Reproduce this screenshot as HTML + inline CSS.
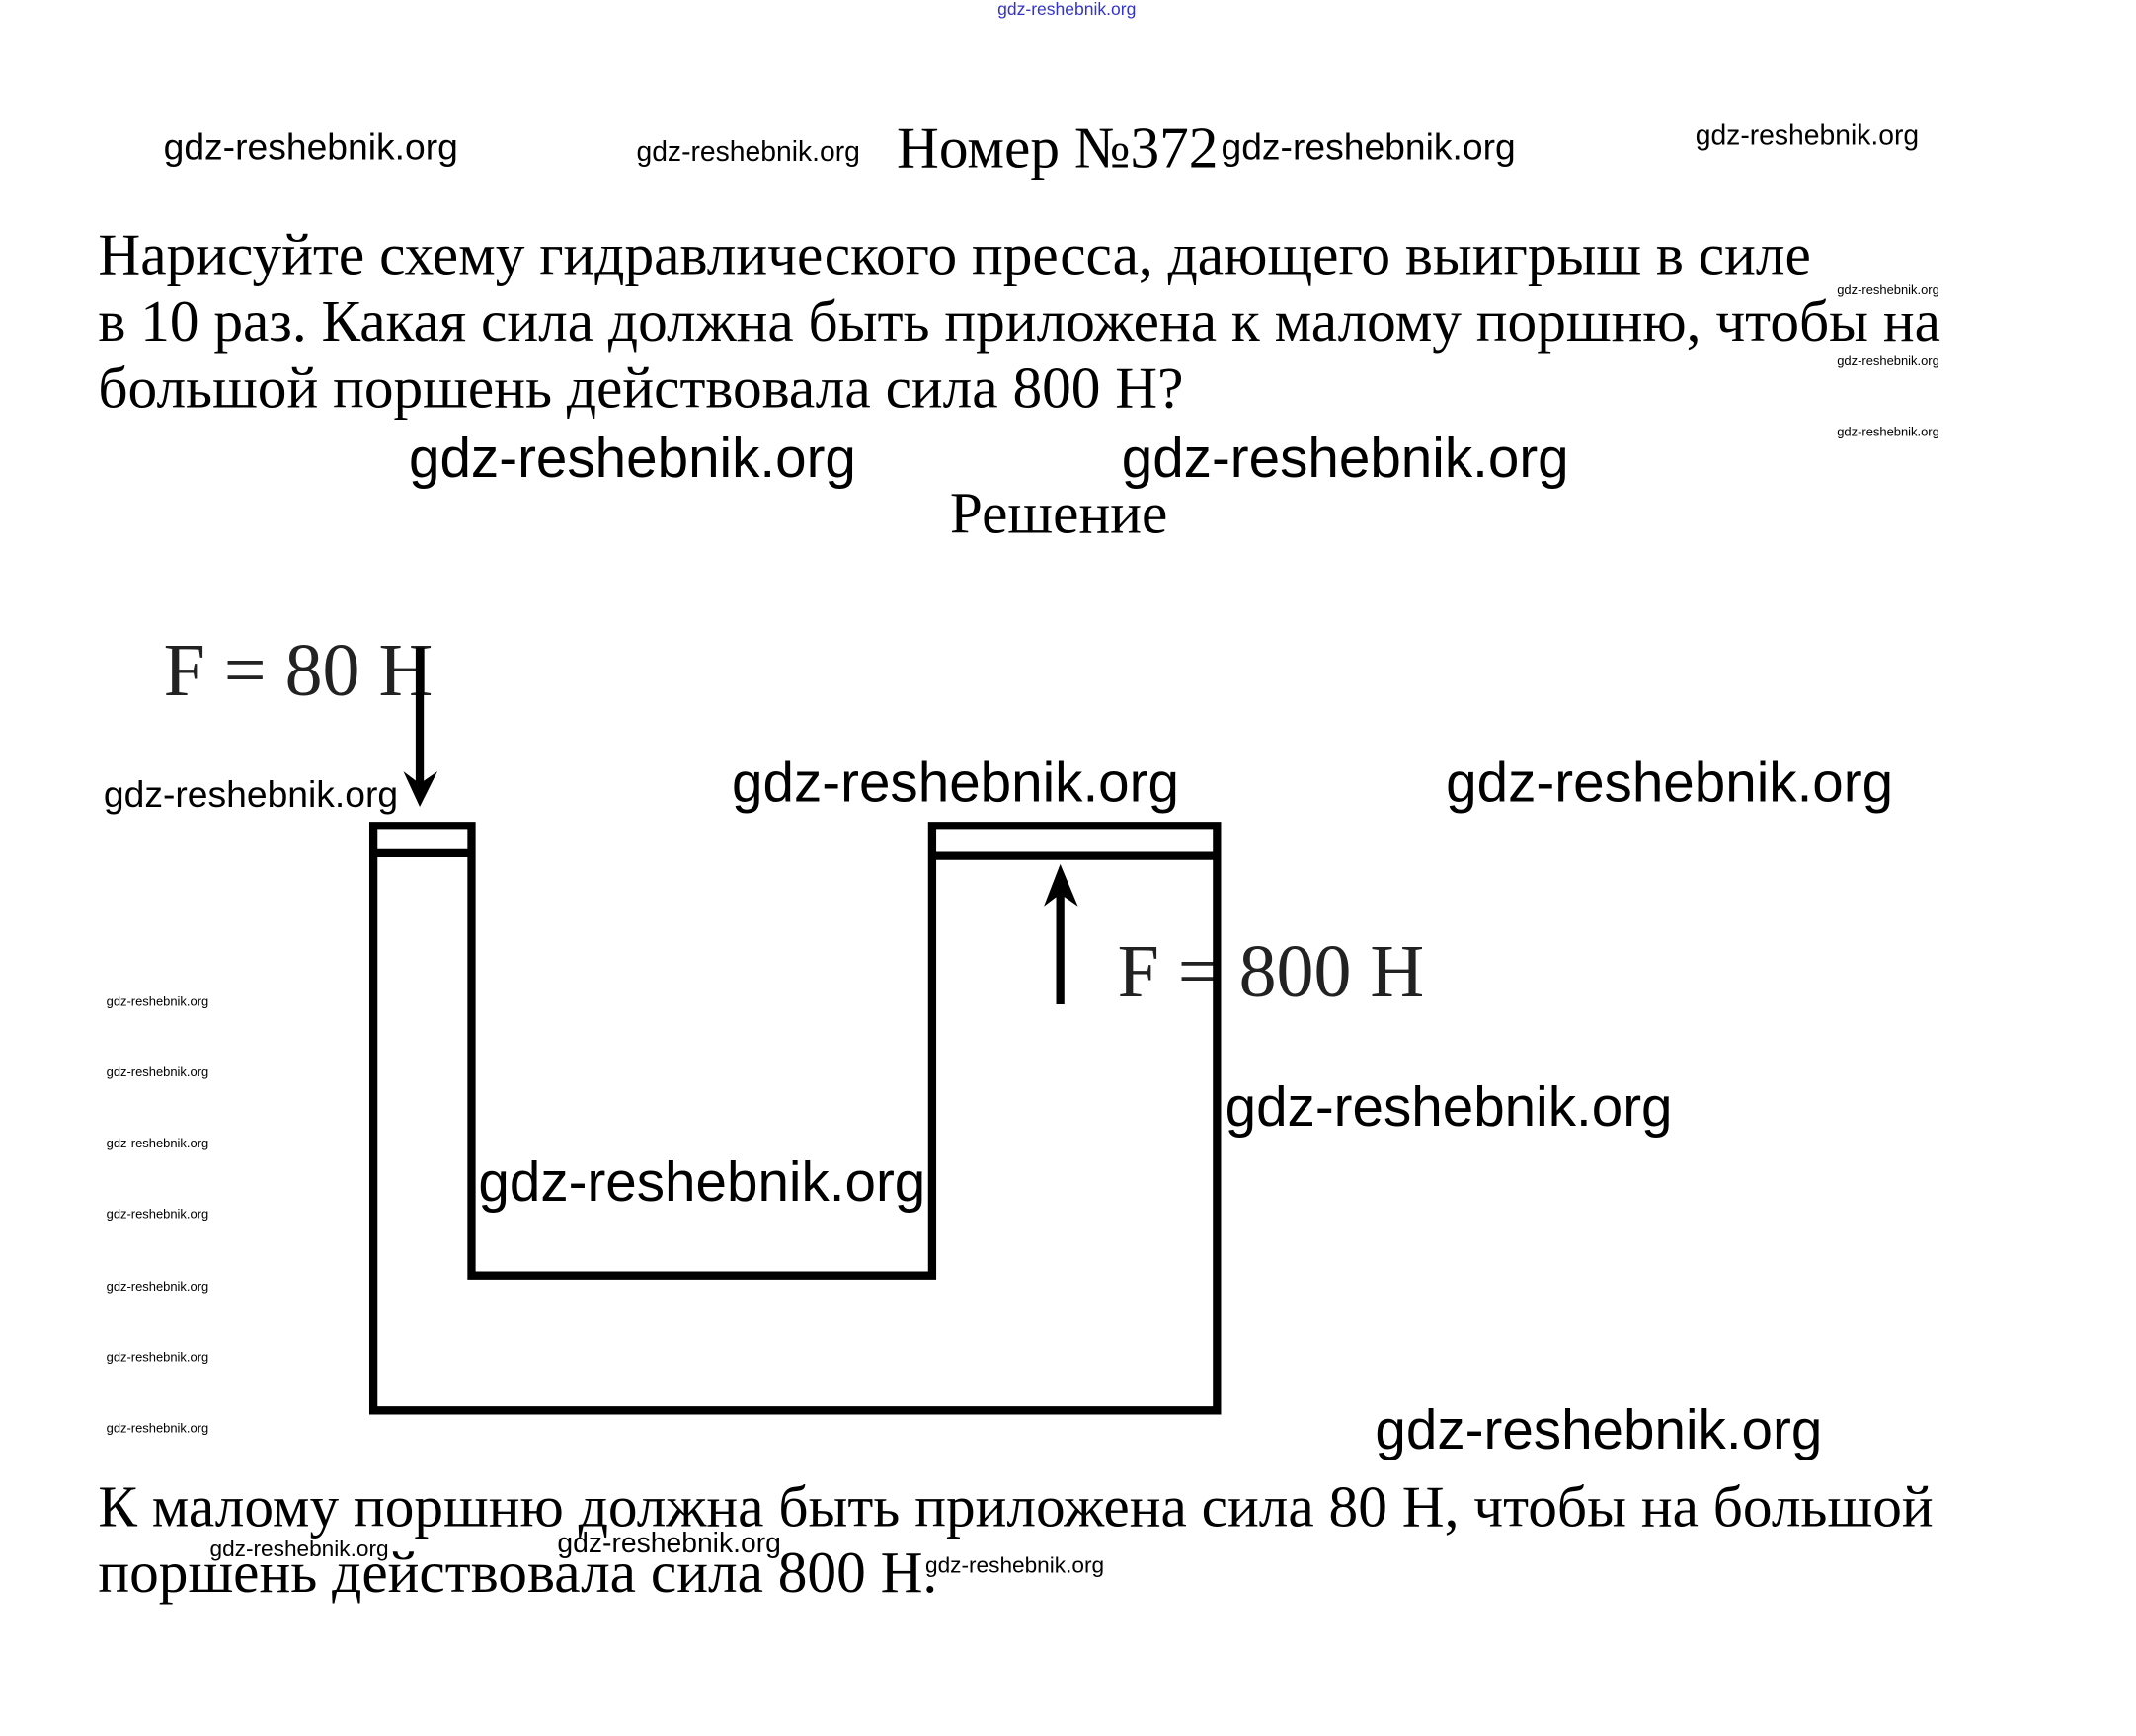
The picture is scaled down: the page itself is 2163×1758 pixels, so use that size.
<!DOCTYPE html>
<html><head><meta charset="utf-8"><style>
html,body{margin:0;padding:0;background:#fff;}
body{width:2163px;height:1757px;overflow:hidden;position:relative;}
#s{position:absolute;left:0;top:0;width:1568px;height:1274px;transform:scale(1.38);transform-origin:0 0;}
.t{position:absolute;white-space:nowrap;line-height:1;}
.w{font-family:"Liberation Sans",sans-serif;color:#000;}
.r{font-family:"Liberation Serif","Noto Serif CJK SC",serif;color:#000;}
</style></head><body><div id="s">
<div class="t w" style="left:732px;top:1px;font-size:12.7px;color:#33c;">gdz-reshebnik.org</div>

<div class="t w" style="left:120px;top:95px;font-size:27px;">gdz-reshebnik.org</div>
<div class="t w" style="left:467px;top:102px;font-size:20.5px;">gdz-reshebnik.org</div>
<div class="t r" style="left:658px;top:88px;font-size:43px;">Номер №372</div>
<div class="t w" style="left:896px;top:95px;font-size:27px;">gdz-reshebnik.org</div>
<div class="t w" style="left:1244px;top:90px;font-size:20.5px;">gdz-reshebnik.org</div>

<div class="t r" style="left:72px;top:163px;font-size:43px;line-height:49px;">Нарисуйте схему гидравлического пресса, дающего выигрыш в силе<br>в 10 раз. Какая сила должна быть приложена к малому поршню, чтобы на<br>большой поршень действовала сила 800 Н?</div>
<div class="t w" style="left:1348px;top:208px;font-size:9.4px;">gdz-reshebnik.org</div>
<div class="t w" style="left:1348px;top:260px;font-size:9.4px;">gdz-reshebnik.org</div>
<div class="t w" style="left:1348px;top:312px;font-size:9.4px;">gdz-reshebnik.org</div>

<div class="t w" style="left:300px;top:316px;font-size:41px;">gdz-reshebnik.org</div>
<div class="t w" style="left:823px;top:316px;font-size:41px;">gdz-reshebnik.org</div>
<div class="t r" style="left:697px;top:356px;font-size:43px;">Решение</div>

<div class="t r" style="left:120px;top:464px;font-size:55px;color:#222;">F = 80 H</div>
<div class="t r" style="left:820px;top:685px;font-size:55px;color:#222;">F = 800 H</div>

<svg style="position:absolute;left:0;top:0" width="1568" height="1274">
<g stroke="#000" stroke-width="6" fill="none">
<path d="M274 606 H346 V936 H684 V606 H893 V1035 H274 Z"/>
<line x1="274" y1="626" x2="346" y2="626"/>
<line x1="684" y1="628" x2="893" y2="628"/>
<line x1="308" y1="475" x2="308" y2="580"/>
<line x1="778" y1="737" x2="778" y2="645"/>
</g>
<polygon points="296,566 308,592 321,566 308,575" fill="#000"/>
<polygon points="766,665 778,634 791,665 778,656" fill="#000"/>
</svg>

<div class="t w" style="left:76px;top:570px;font-size:27px;">gdz-reshebnik.org</div>
<div class="t w" style="left:537px;top:554px;font-size:41px;">gdz-reshebnik.org</div>
<div class="t w" style="left:1061px;top:554px;font-size:41px;">gdz-reshebnik.org</div>
<div class="t w" style="left:899px;top:792px;font-size:41px;">gdz-reshebnik.org</div>
<div class="t w" style="left:351px;top:847px;font-size:41px;">gdz-reshebnik.org</div>
<div class="t w" style="left:1009px;top:1029px;font-size:41px;">gdz-reshebnik.org</div>

<div class="t w" style="left:78px;top:730px;font-size:9.4px;">gdz-reshebnik.org</div>
<div class="t w" style="left:78px;top:782px;font-size:9.4px;">gdz-reshebnik.org</div>
<div class="t w" style="left:78px;top:834px;font-size:9.4px;">gdz-reshebnik.org</div>
<div class="t w" style="left:78px;top:886px;font-size:9.4px;">gdz-reshebnik.org</div>
<div class="t w" style="left:78px;top:939px;font-size:9.4px;">gdz-reshebnik.org</div>
<div class="t w" style="left:78px;top:991px;font-size:9.4px;">gdz-reshebnik.org</div>
<div class="t w" style="left:78px;top:1043px;font-size:9.4px;">gdz-reshebnik.org</div>

<div class="t r" style="left:72px;top:1083px;font-size:43px;line-height:48px;">К малому поршню должна быть приложена сила 80 Н, чтобы на большой<br>поршень действовала сила 800 Н.</div>
<div class="t w" style="left:154px;top:1129px;font-size:16.4px;">gdz-reshebnik.org</div>
<div class="t w" style="left:409px;top:1123px;font-size:20.5px;">gdz-reshebnik.org</div>
<div class="t w" style="left:679px;top:1141px;font-size:16.4px;">gdz-reshebnik.org</div>
</div></body></html>
